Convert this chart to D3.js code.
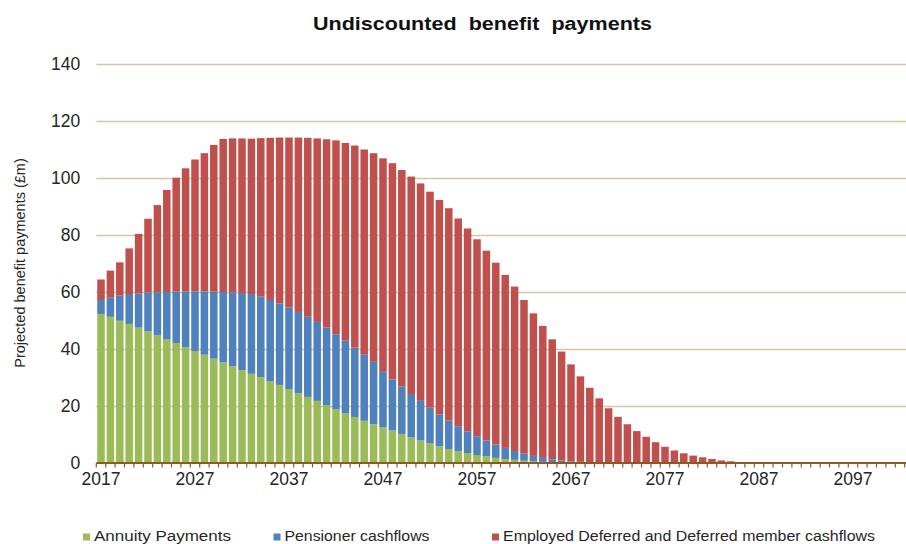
<!DOCTYPE html>
<html>
<head>
<meta charset="utf-8">
<script src="https://cdn.jsdelivr.net/npm/d3@7"></script>
<style>
  html, body { margin: 0; padding: 0; background: #fff; }
  svg { display: block; font-family: "Liberation Sans", Arial, sans-serif; }
</style>
</head>
<body>
<svg id="chart" width="906" height="544"></svg>
<script>
// Projection years, one bar per year
const years = d3.range(2017, 2103);

// Annuity payments (£m)
const annuity = [
  52.3, 51.3, 49.9, 48.8, 47.5, 46.2, 44.8, 43.5, 42.1, 40.7,
  39.3, 38.0, 36.6, 35.3, 34.0, 32.6, 31.3, 30.1, 28.7, 27.4,
  25.9, 24.5, 23.2, 21.8, 20.2, 18.8, 17.4, 16.1, 14.8, 13.6,
  12.5, 11.4, 10.2, 9.0, 7.9, 6.9, 5.9, 4.9, 4.1, 3.5,
  2.8, 2.3, 1.8, 1.4, 1.1, 0.8, 0.6, 0.4, 0.3, 0.2,
  0.1, 0.1, 0.05, 0, 0, 0, 0, 0, 0, 0,
  0, 0, 0, 0, 0, 0, 0, 0, 0, 0,
  0, 0, 0, 0, 0, 0, 0, 0, 0, 0,
  0, 0, 0, 0, 0, 0
];

// Pensioner cashflows (£m)
const pensioner = [
  4.9, 6.7, 8.8, 10.5, 12.0, 13.6, 15.1, 16.5, 18.0, 19.5,
  20.9, 22.2, 23.5, 24.7, 25.9, 27.1, 28.0, 28.4, 28.5, 28.6,
  28.7, 28.5, 28.1, 27.7, 27.3, 26.4, 25.5, 24.4, 23.2, 21.9,
  19.5, 17.9, 16.6, 15.2, 13.9, 12.5, 11.2, 10.0, 8.8, 7.6,
  6.6, 5.6, 4.7, 3.9, 3.1, 2.5, 1.9, 1.4, 1.0, 0.7,
  0.5, 0.3, 0.25, 0.2, 0.1, 0, 0, 0, 0, 0,
  0, 0, 0, 0, 0, 0, 0, 0, 0, 0,
  0, 0, 0, 0, 0, 0, 0, 0, 0, 0,
  0, 0, 0, 0, 0, 0
];

// Employed, deferred and deferred member cashflows (£m)
const employed = [
  7.2, 9.5, 11.7, 16.0, 20.9, 25.9, 30.6, 35.8, 40.0, 43.2,
  46.3, 48.5, 51.5, 53.7, 54.0, 54.2, 54.5, 55.5, 56.9, 58.2,
  59.6, 61.2, 62.8, 64.4, 66.1, 68.0, 69.4, 70.9, 72.0, 73.2,
  74.9, 75.9, 76.0, 76.3, 76.3, 75.8, 75.2, 74.5, 72.9, 71.2,
  69.1, 66.6, 63.8, 60.7, 57.7, 53.9, 50.0, 46.3, 42.1, 38.2,
  34.0, 30.0, 26.1, 22.5, 19.1, 16.2, 13.6, 11.2, 9.2, 7.3,
  5.7, 4.4, 3.4, 2.6, 2.0, 1.4, 0.9, 0.6, 0.35, 0.2,
  0.1, 0.05, 0, 0, 0, 0, 0, 0, 0, 0,
  0, 0, 0, 0, 0, 0
];

const seriesNames = ["Annuity Payments", "Pensioner cashflows", "Employed Deferred and Deferred member cashflows"];
const seriesColors = ["#9bbb59", "#4f81bd", "#c0504d"];
const yTicks = [0, 20, 40, 60, 80, 100, 120, 140];
const xLabelYears = [2017, 2027, 2037, 2047, 2057, 2067, 2077, 2087, 2097];

const svg = d3.select("#chart");
const plotLeft = 96.3, plotRight = 904.7, plotTop = 64, plotBottom = 463;
const labelFont = "'Liberation Sans', Arial, sans-serif";

const rows = years.map((yr, i) => ({ year: yr, a: annuity[i], p: pensioner[i], e: employed[i] }));
const stacked = d3.stack().keys(["a", "p", "e"])(rows);

const x = d3.scaleBand().domain(years).range([plotLeft, plotRight]).paddingInner(0.2).paddingOuter(0.1);
const y = d3.scaleLinear().domain([0, 140]).range([plotBottom, plotTop]);

// Horizontal gridlines
const grid = svg.append("g").attr("transform", `translate(${plotLeft},0)`)
  .call(d3.axisLeft(y).tickValues(yTicks.filter(t => t > 0)).tickSize(-(906 - plotLeft)).tickFormat(""));
grid.select(".domain").remove();
grid.selectAll("line").attr("stroke", "#d8c3a3").attr("stroke-width", 1.3);

// Y tick labels
const yAxis = svg.append("g").attr("transform", `translate(${plotLeft - 16},0)`)
  .call(d3.axisLeft(y).tickValues(yTicks).tickSize(0).tickPadding(0));
yAxis.select(".domain").remove();
yAxis.selectAll("text").attr("font-size", 17.5).attr("fill", "#262626")
  .attr("font-family", labelFont);

// Stacked bars
svg.append("g").selectAll("g").data(stacked).join("g")
  .attr("fill", (d, i) => seriesColors[i])
  .selectAll("rect").data(d => d).join("rect")
  .attr("x", d => x(d.data.year))
  .attr("width", x.bandwidth())
  .attr("y", d => y(d[1]))
  .attr("height", d => Math.max(0, y(d[0]) - y(d[1])));

// Category axis with tick marks at category boundaries
const xAxis = svg.append("g").attr("transform", `translate(0,${plotBottom})`)
  .call(d3.axisBottom(x).tickValues(xLabelYears).tickSize(0).tickPadding(9.5));
xAxis.select(".domain").attr("stroke", "#8a5a22").attr("stroke-width", 2)
  .attr("d", `M${plotLeft},0H906`);
xAxis.selectAll("text").attr("font-size", 17.5).attr("fill", "#262626")
  .attr("font-family", labelFont);
const step = x.step();
svg.append("g").selectAll("line").data(d3.range(years.length + 1)).join("line")
  .attr("x1", i => x(years[0]) - step * 0.1 + i * step)
  .attr("x2", i => x(years[0]) - step * 0.1 + i * step)
  .attr("y1", plotBottom)
  .attr("y2", plotBottom + 4.5)
  .attr("stroke", "#8a5a22").attr("stroke-width", 1.2);

// Title
svg.append("text").attr("x", 482.5).attr("y", 30).attr("text-anchor", "middle")
  .attr("font-size", 17.5).attr("font-weight", "bold").attr("fill", "#111")
  .attr("word-spacing", 5)
  .attr("textLength", 339).attr("lengthAdjust", "spacingAndGlyphs")
  .text("Undiscounted benefit payments");

// Y axis title
svg.append("text").attr("transform", "translate(25,263) rotate(-90)")
  .attr("text-anchor", "middle").attr("font-size", 14.5).attr("fill", "#262626")
  .text("Projected benefit payments (£m)");

// Legend
const legendX = [83, 273.5, 492];
const legendLen = [137, 145, 372];
const legend = svg.append("g").selectAll("g").data(seriesNames).join("g")
  .attr("transform", (d, i) => `translate(${legendX[i]},0)`);
legend.append("rect").attr("x", 0).attr("y", 533.5).attr("width", 7).attr("height", 7)
  .attr("fill", (d, i) => seriesColors[i]);
legend.append("text").attr("x", 11).attr("y", 540.5).attr("font-size", 15.5).attr("fill", "#262626")
  .attr("textLength", (d, i) => legendLen[i]).attr("lengthAdjust", "spacingAndGlyphs")
  .text(d => d);
</script>
</body>
</html>
